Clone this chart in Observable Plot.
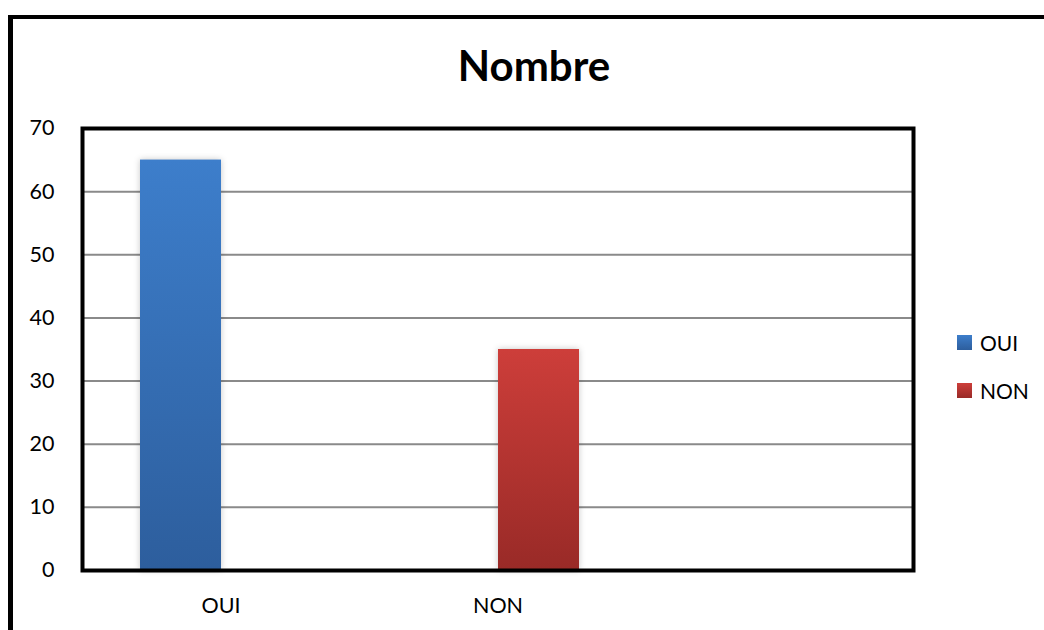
<!DOCTYPE html>
<html>
<head>
<meta charset="utf-8">
<script src="https://cdn.jsdelivr.net/npm/d3@7"></script>
<script src="https://cdn.jsdelivr.net/npm/@observablehq/plot@0.6"></script>
<style>
  html, body { margin: 0; padding: 0; background: #fff; }
  #page { position: relative; width: 1044px; height: 630px; overflow: hidden; font-family: Lato, "Open Sans", sans-serif; color: #000; }
  #border { position: absolute; left: 8px; top: 15px; width: 1100px; height: 700px; border-left: 5px solid #000; border-top: 4px solid #000; }
  #title { position: absolute; left: 0; width: 1068px; top: 40px; text-align: center; font-weight: 700; font-size: 42px; }
  #chart { position: absolute; left: 0; top: 100px; }
  #chart g[aria-label="bar"] rect { filter: drop-shadow(0 0 3px rgba(0,0,0,0.22)); }
  #legend { position: absolute; left: 957px; top: 329px; font-size: 21px; }
  #legend .item { display: flex; align-items: center; height: 27px; margin-bottom: 21px; }
  #legend .sw { width: 15px; height: 15px; margin-right: 8px; }
</style>
</head>
<body>
<svg width="0" height="0" style="position:absolute">
  <defs>
    <linearGradient id="grad-oui" x1="0" y1="0" x2="0" y2="1">
      <stop offset="0" stop-color="#3d7ecb"/>
      <stop offset="1" stop-color="#2d5e9d"/>
    </linearGradient>
    <linearGradient id="grad-non" x1="0" y1="0" x2="0" y2="1">
      <stop offset="0" stop-color="#cd3e3a"/>
      <stop offset="1" stop-color="#992a27"/>
    </linearGradient>
  </defs>
</svg>
<div id="page">
  <div id="border"></div>
  <div id="title">Nombre</div>
  <div id="chart"></div>
  <div id="legend"></div>
</div>
<script>
// Categories on the horizontal axis (the third slot is left blank)
const categories = ["OUI", "NON", ""];
// Series names, in legend order
const series = ["OUI", "NON"];
// Values per series, aligned with categories
const valuesOUI = [65, null, null];
const valuesNON = [null, 35, null];
// Y axis tick labels
const yTicks = [0, 10, 20, 30, 40, 50, 60, 70];
// Fills per series (gradients defined above) and legend swatch colours
const seriesFills = ["url(#grad-oui)", "url(#grad-non)"];
const swatchCss = ["linear-gradient(#3d7ecb, #2d5e9d)", "linear-gradient(#cd3e3a, #992a27)"];

const seriesValues = [valuesOUI, valuesNON];
const rows = categories.flatMap((c, i) =>
  series.map((s, j) => ({category: c, series: s, value: seriesValues[j][i]}))
);

const chart = Plot.plot({
  width: 1044,
  height: 530,
  marginLeft: 81,
  marginRight: 130,
  marginTop: 28,
  marginBottom: 60,
  style: {fontFamily: "Lato, 'Open Sans', sans-serif", fontSize: "21.5px", color: "#000", background: "transparent"},
  fx: {domain: categories, padding: 0, label: null, tickSize: 0, tickPadding: 27},
  x: {domain: series, paddingInner: 0, paddingOuter: 0.7, axis: null},
  y: {domain: [0, 70], ticks: yTicks, tickSize: 0, tickPadding: 28, label: null},
  color: {domain: series, range: seriesFills},
  marks: [
    Plot.gridY(yTicks.filter(t => t > 0 && t < 70), {stroke: "#8a8a8a", strokeOpacity: 1, strokeWidth: 2}),
    Plot.barY(rows, {fx: "category", x: "series", y: "value", fill: "series"}),
    Plot.frame({facet: "super", stroke: "#000", strokeWidth: 4})
  ]
});
document.getElementById("chart").append(chart);

// Legend
const legend = d3.select("#legend");
series.forEach((s, j) => {
  const item = legend.append("div").attr("class", "item");
  item.append("div").attr("class", "sw").style("background", swatchCss[j]);
  item.append("span").text(s);
});
</script>
</body>
</html>
